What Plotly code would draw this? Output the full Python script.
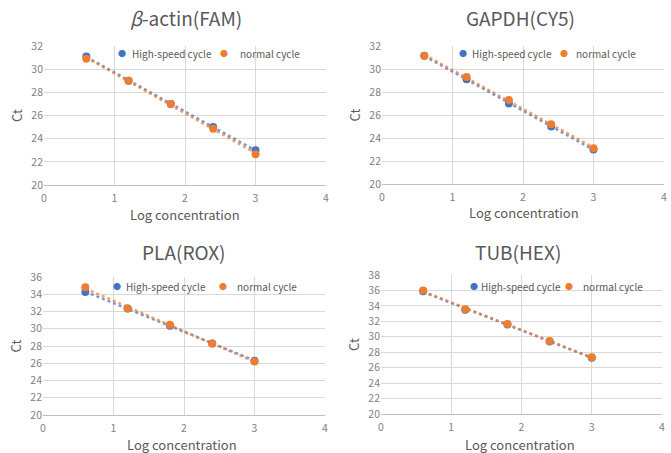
import numpy as np
import plotly.graph_objects as go

W, H = 671, 453

log_conc = [0.6, 1.2, 1.8, 2.4, 3.0]

titles = ["<i>β</i>-actin(FAM)", "GAPDH(CY5)", "PLA(ROX)", "TUB(HEX)"]
series_names = ["High-speed cycle", "normal cycle"]
x_title = "Log concentration"
y_title = "Ct"

actin_high = [31.1, 29.0, 27.0, 25.0, 23.0]
actin_normal = [30.9, 29.0, 27.0, 24.85, 22.65]
gapdh_high = [31.15, 29.1, 27.0, 25.0, 23.0]
gapdh_normal = [31.15, 29.3, 27.3, 25.2, 23.1]
pla_high = [34.25, 32.35, 30.35, 28.3, 26.3]
pla_normal = [34.8, 32.35, 30.45, 28.3, 26.2]
tub_high = [35.9, 33.5, 31.6, 29.4, 27.3]
tub_normal = [36.0, 33.55, 31.65, 29.45, 27.35]

y_max = [32, 32, 36, 38]

series_high = [actin_high, gapdh_high, pla_high, tub_high]
series_normal = [actin_normal, gapdh_normal, pla_normal, tub_normal]

# layout (pixels): plot areas (left, right, top, bottom)
boxes = [(44, 326, 46, 185), (382, 664, 46, 184), (43, 325, 277, 415), (381, 662, 275, 414)]
title_pos = [(186, 18), (520, 18), (184, 251), (518, 251)]
xtitle_pos = [(185, 214), (524, 213), (182, 444), (520, 444)]
# legend: (dot1 x, text1 x, dot2 x, text2 x, y)
legend_pos = [(122, 130, 224, 238, 54), (463, 470, 564, 574, 54),
              (117, 124, 223, 235, 286), (474, 479, 569, 581, 286)]

BLUE = "#4472C4"
ORANGE = "#ED7D31"
GRAY = "#595959"
TICKGRAY = "#7f7f7f"
FONT = "Noto Sans CJK JP"

fig = go.Figure()
layout = dict(
    width=W, height=H, margin=dict(l=0, r=0, t=0, b=0),
    paper_bgcolor="white", plot_bgcolor="white",
    font=dict(family=FONT, color=GRAY, size=11),
    showlegend=False,
    annotations=[],
)

def px(x):
    return x / W

def py(y):
    return 1 - y / H

for i in range(4):
    ax = "" if i == 0 else str(i + 1)
    xa, ya = "x" + ax, "y" + ax
    l, r, t, b = boxes[i]
    hi, no = series_high[i], series_normal[i]
    for vals, col in [(hi, BLUE), (no, ORANGE)]:
        coef = np.polyfit(log_conc, vals, 1)
        xs = np.array([log_conc[0], log_conc[-1]])
        fig.add_trace(go.Scatter(
            x=xs, y=np.polyval(coef, xs), mode="lines",
            line=dict(color=col, width=2.5, dash="dot"),
            xaxis=xa, yaxis=ya, hoverinfo="skip", opacity=0.7))
    for vals, col, name in [(hi, BLUE, series_names[0]), (no, ORANGE, series_names[1])]:
        fig.add_trace(go.Scatter(
            x=log_conc, y=vals, mode="markers", name=name,
            marker=dict(color=col, size=8),
            xaxis=xa, yaxis=ya))
    layout["xaxis" + ax] = dict(
        domain=[px(l), px(r)], range=[0, 4], dtick=1, anchor=ya, automargin=False,
        showgrid=True, gridcolor="#d9d9d9", gridwidth=1,
        showline=True, linecolor="#bfbfbf", zeroline=False,
        tickfont=dict(size=10.5, color=TICKGRAY), ticks="", ticklabelstandoff=3,
    )
    layout["yaxis" + ax] = dict(
        domain=[py(b), py(t)], range=[20, y_max[i]], dtick=2, anchor=xa, automargin=False,
        showgrid=True, gridcolor="#d9d9d9", gridwidth=1,
        showline=False, zeroline=False,
        tickfont=dict(size=10.5, color=TICKGRAY), ticks="",
        title=dict(text=y_title, font=dict(size=13, color=GRAY), standoff=5),
    )
    d1, t1, d2, t2, ly = legend_pos[i]
    for dx, col in [(d1, BLUE), (d2, ORANGE)]:
        layout["annotations"].append(dict(
            text="●", x=px(dx), y=py(ly), xref="paper", yref="paper", showarrow=False,
            font=dict(size=8, color=col), xanchor="center", yanchor="middle"))
    for tx, name in [(t1, series_names[0]), (t2, series_names[1])]:
        layout["annotations"].append(dict(
            text=name, x=px(tx), y=py(ly), xref="paper", yref="paper", showarrow=False,
            font=dict(size=10, color=GRAY), xanchor="left", yanchor="middle"))
    tx, ty = title_pos[i]
    layout["annotations"].append(dict(
        text=titles[i], x=px(tx), y=py(ty),
        xref="paper", yref="paper", showarrow=False,
        font=dict(size=19, color=GRAY, family=FONT), xanchor="center", yanchor="middle"))
    xx, xy = xtitle_pos[i]
    layout["annotations"].append(dict(
        text=x_title, x=px(xx), y=py(xy),
        xref="paper", yref="paper", showarrow=False,
        font=dict(size=13, color=GRAY, family=FONT), xanchor="center", yanchor="middle"))

fig.update_layout(**layout)
fig.write_html("out.html", config={"displayModeBar": False},
               post_script="document.body.style.margin='0';")
